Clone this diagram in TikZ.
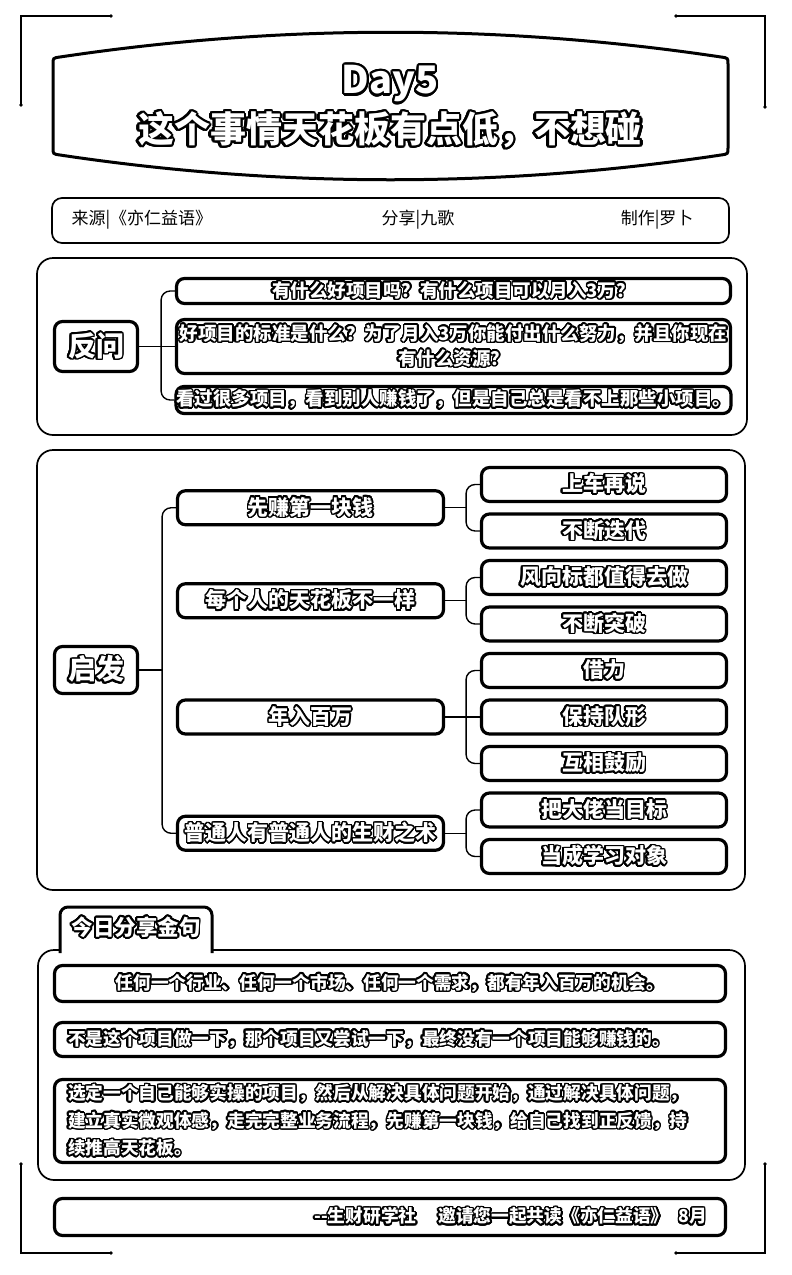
\documentclass[tikz,border=0pt]{standalone}
\usepackage{fontspec}
\setmainfont{Noto Sans CJK SC}
\usepackage{tikz}
\usetikzlibrary{positioning,calc}
\usepackage{contour}
\contournumber{24}
\contourlength{1.5pt}
\newcommand{\olt}[1]{\contour{black}{#1}}

\begin{document}
\begin{tikzpicture}[x=1pt,y=-1pt,
  box/.style={draw,line width=3.2pt,rounded corners=8pt,fill=white,inner sep=0pt,text=white},
  panel/.style={draw,line width=1.7pt,rounded corners=16pt},
  link/.style={line width=1.4pt,rounded corners=9pt},
  headbox/.style={box,minimum width=83pt,font=\fontsize{28}{30}\selectfont\bfseries},
  askbox/.style={box,minimum width=554pt,font=\fontsize{18.5}{25}\selectfont\bfseries,align=center},
  midbox/.style={box,minimum width=266pt,minimum height=34pt,font=\fontsize{21}{24}\selectfont\bfseries},
  leafbox/.style={box,minimum width=245pt,minimum height=34pt,font=\fontsize{21}{24}\selectfont\bfseries},
  quotebox/.style={box,minimum width=671pt,font=\fontsize{17.7}{27.5}\selectfont\bfseries},
  plain/.style={font=\fontsize{17}{20}\selectfont}]
  \fill[white] (0,0) rectangle (792,1275);
  \useasboundingbox (0,0) rectangle (792,1275);
  % corner marks
  \draw[line width=1.3pt] (111,16) -- (21,16) -- (21,105);
  \draw[line width=1.3pt] (676,16) -- (765,16) -- (765,107);
  \draw[line width=1.3pt] (21,1164) -- (21,1253) -- (111,1253);
  \draw[line width=1.3pt] (765,1164) -- (765,1253) -- (676,1253);
  \foreach \p in {(111,16),(21,105),(676,16),(765,107),(21,1164),(111,1253),(765,1164),(676,1253)}
    \fill \p circle (1.8pt);
  % title plate
  \draw[line width=3pt,fill=white] (53,148) -- (53,64) .. controls (53,58) .. (60,57)
    .. controls (280,24) and (501,24) .. (721,57) .. controls (728,58) .. (728,64)
    -- (728,148) .. controls (728,154) .. (721,155)
    .. controls (501,188) and (280,188) .. (60,155) .. controls (53,154) .. (53,148) -- cycle;
  \node[text=white,font=\fontsize{38}{40}\selectfont\bfseries] (day) at (390,85)
    {\contourlength{2.2pt}\olt{Day5}};
  \node[text=white,font=\fontsize{36}{40}\selectfont\bfseries] (headline) at (390,131)
    {\contourlength{2.2pt}\olt{这个事情天花板有点低，不想碰}};
  % source bar
  \draw[line width=1.7pt,rounded corners=10pt] (52,198) rectangle (729,243);
  \node[plain,anchor=west] (src) at (68,220) {来源|《亦仁益语》};
  \node[plain] (share) at (418,220) {分享|九歌};
  \node[plain,anchor=east] (make) at (697,220) {制作|罗卜};
  % panels
  \draw[panel] (37,258) rectangle (747,435);
  \draw[panel] (37,450) rectangle (745,890);
  \draw[panel] (38,950) rectangle (745,1180);
  \filldraw[fill=white,line width=3pt,rounded corners=8pt] (60,953) -- (60,907) -- (212,907) -- (212,953);
  \node[text=white,font=\fontsize{21.5}{24}\selectfont\bfseries] (tab) at (136,928)
    {\contourlength{1.8pt}\olt{今日分享金句}};

  % first panel
  \node[headbox,minimum height=50pt] (fanwen) at (96,346.5) {\olt{反问}};
  \node[askbox,minimum height=25pt] (ask1) at (453.5,291) {\olt{有什么好项目吗？有什么项目可以月入3万？}};
  \node[askbox,minimum height=54pt] (ask2) at (453.5,346.5)
    {\olt{好项目的标准是什么？为了月入3万你能付出什么努力，并且你现在}\\\olt{有什么资源？}};
  \node[askbox,minimum height=27pt] (ask3) at (453.5,400) {\olt{看过很多项目，看到别人赚钱了，但是自己总是看不上那些小项目。}};
  \draw[link] (fanwen.east) -- (ask2.west);
  \draw[link] (ask1.west) -| ($(fanwen.east)+(22,0)$) |- (ask3.west);

  % second panel
  \node[headbox,minimum height=47pt] (qifa) at (96,670) {\olt{启发}};
  \foreach \i/\yy/\txt in {1/507.75/先赚第一块钱,2/600.75/每个人的天花板不一样,3/717/年入百万,4/833.25/普通人有普通人的生财之术}
    \node[midbox] (mid\i) at (310.5,\yy) {\olt{\txt}};
  \foreach \i/\txt in {1/上车再说,2/不断迭代,3/风向标都值得去做,4/不断突破,5/借力,6/保持队形,7/互相鼓励,8/把大佬当目标,9/当成学习对象}
    \node[leafbox] (leaf\i) at (604,{484.5+46.5*(\i-1)}) {\olt{\txt}};
  \draw[link] (qifa.east) -- ++(23,0);
  \draw[link] (mid1.west) -| ($(qifa.east)+(23,0)$) |- (mid4.west);
  \foreach \i/\a/\b in {1/1/2,2/3/4,4/8/9} {
    \draw[link] (mid\i.east) -- ++(21,0);
    \draw[link] (leaf\a.west) -| ($(mid\i.east)+(21,0)$) |- (leaf\b.west);
  }
  \draw[link] (mid3.east) -- (leaf6.west);
  \draw[link] (leaf5.west) -| ($(mid3.east)+(21,0)$) |- (leaf7.west);

  % quotes
  \node[quotebox,minimum height=36pt,align=center] (q1) at (390,983.5)
    {\olt{任何一个行业、任何一个市场、任何一个需求，都有年入百万的机会。}};
  \node[quotebox,minimum height=34pt,text width=644pt,align=left] (q2) at (390,1039.5)
    {\olt{不是这个项目做一下，那个项目又尝试一下，最终没有一个项目能够赚钱的。}};
  \node[quotebox,minimum height=83pt,text width=644pt,align=left] (q3) at (390,1121)
    {\olt{选定一个自己能够实操的项目，然后从解决具体问题开始，通过解决具体问题，}\\
     \olt{建立真实微观体感，走完完整业务流程，先赚第一块钱，给自己找到正反馈，持}\\
     \olt{续推高天花板。}};
  % footer
  \node[quotebox,minimum height=37pt,text width=634pt,align=right] (footer) at (390,1217)
    {\olt{-{}-生财研学社}\hspace{22pt}\olt{邀请您一起共读《亦仁益语》}\hspace{10pt}\olt{8月}};
\end{tikzpicture}
\end{document}
